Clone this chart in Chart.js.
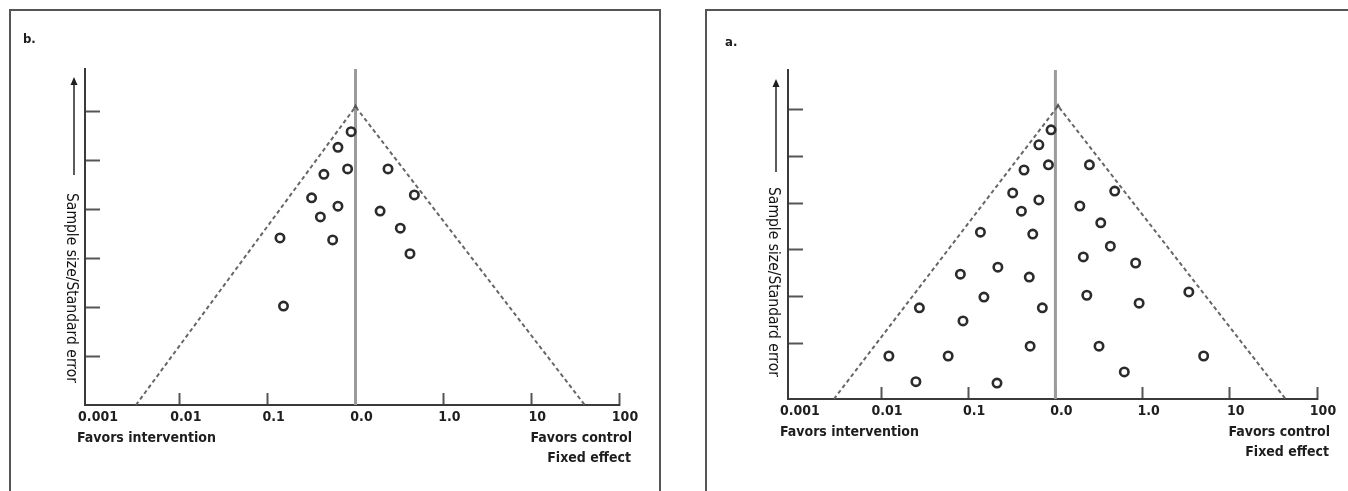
<!DOCTYPE html>
<html>
<head>
<meta charset="utf-8">
<script src="https://cdn.jsdelivr.net/npm/chart.js@4.4.1/dist/chart.umd.min.js"></script>
<style>
  body { margin: 0; background: #fff; }
  #page { position: relative; width: 1348px; height: 491px; overflow: hidden; background: #fff; }
  .frame { position: absolute; top: 9px; height: 540px; border: 2px solid #555; box-sizing: border-box; }
  canvas { position: absolute; top: 0; }
</style>
</head>
<body>
<div id="page">
  <div class="frame" style="left:9px;width:652px"></div>
  <div class="frame" style="left:705px;width:700px"></div>
  <canvas id="panelB" width="674" height="491" style="left:0"></canvas>
  <canvas id="panelA" width="674" height="491" style="left:674px"></canvas>
</div>
<script>
// x is measured in axis steps: 0 = 0.001, 1 = 0.01, 2 = 0.1, 3 = 0.0, 4 = 1.0, 5 = 10, 6 = 100
// y is sample size / standard error, in tick steps
var xTickLabels = ["0.001", "0.01", "0.1", "0.0", "1.0", "10", "100"];
var xTickValues = [0, 1, 2, 3, 4, 5, 6];
var yTickValues = [1, 2, 3, 4, 5, 6];

// Panel b
var studiesB_x = [2.95, 2.80, 2.91, 2.64, 3.37, 2.50, 2.80, 3.67, 2.60, 3.28, 3.51, 2.14, 2.74, 3.62, 2.18];
var studiesB_y = [5.58, 5.26, 4.82, 4.71, 4.82, 4.23, 4.06, 4.29, 3.84, 3.96, 3.61, 3.41, 3.37, 3.09, 2.02];
var funnelB_x = [0.50, 3.0, 5.61];
var funnelB_y = [0, 6.09, 0];
var xRangeB = [-0.08, 6];
var yRangeB = [0, 6.86];

// Panel a
var studiesA_x = [2.95, 2.81, 2.92, 3.39, 2.64, 3.68, 2.51, 2.81, 3.28, 2.61, 3.52, 2.14, 2.74, 3.63, 3.32, 3.92, 2.34,
  1.91, 2.70, 4.53, 3.36, 2.18, 3.96, 1.44, 2.85, 1.94, 2.71, 3.50, 1.09, 1.77, 4.70, 3.79, 1.40, 2.33];
var studiesA_y = [5.57, 5.25, 4.82, 4.82, 4.71, 4.26, 4.22, 4.07, 3.94, 3.83, 3.58, 3.38, 3.34, 3.08, 2.85, 2.72, 2.63,
  2.48, 2.42, 2.10, 2.03, 1.99, 1.86, 1.76, 1.76, 1.48, 0.94, 0.94, 0.73, 0.73, 0.73, 0.39, 0.18, 0.15];
var funnelA_x = [0.46, 3.03, 5.64];
var funnelA_y = [-0.19, 6.08, -0.19];
var xRangeA = [-0.067, 6];
var yRangeA = [-0.19, 6.85];

var centerX = 3;

var textFont = "'DejaVu Sans Condensed', 'DejaVu Sans', sans-serif";

function toPoints(xs, ys) {
  return xs.map(function (x, i) { return { x: x, y: ys[i] }; });
}

// Panel letter, y-axis arrow + title, and the notes under the x axis
var sideNotes = {
  id: "sideNotes",
  afterDraw: function (chart, args, opts) {
    var ctx = chart.ctx;
    var area = chart.chartArea;
    ctx.save();
    ctx.fillStyle = "#1e1e1e";
    ctx.strokeStyle = "#333";

    ctx.font = "bold 13px " + textFont;
    ctx.textBaseline = "middle";
    ctx.textAlign = "left";
    ctx.fillText(opts.letter, opts.letterX, opts.letterY);

    // arrow
    ctx.lineWidth = 1.6;
    ctx.beginPath();
    ctx.moveTo(opts.arrowX, opts.arrowBottom);
    ctx.lineTo(opts.arrowX, opts.arrowTop + 6);
    ctx.stroke();
    ctx.beginPath();
    ctx.moveTo(opts.arrowX, opts.arrowTop);
    ctx.lineTo(opts.arrowX - 3.5, opts.arrowTop + 8);
    ctx.lineTo(opts.arrowX + 3.5, opts.arrowTop + 8);
    ctx.closePath();
    ctx.fill();

    // y title reads top to bottom
    ctx.save();
    ctx.translate(opts.labelX, opts.labelY);
    ctx.rotate(Math.PI / 2);
    ctx.fillStyle = "#111";
    ctx.font = "15.5px " + textFont;
    ctx.textAlign = "center";
    ctx.fillText("Sample size/Standard error", 0, 0);
    ctx.restore();

    ctx.font = "bold 14px " + textFont;
    ctx.textAlign = "left";
    ctx.fillText("Favors intervention", area.left - 8, area.bottom + 33);
    ctx.textAlign = "right";
    ctx.fillText("Favors control", area.right + 13, area.bottom + 33);
    ctx.fillText("Fixed effect", area.right + 12, area.bottom + 53);
    ctx.restore();
  }
};

function tickColor(c) {
  return c.tick && c.tick.value === 0 ? "rgba(0,0,0,0)" : "#555";
}

function makeFunnel(canvasId, p) {
  var ctx = document.getElementById(canvasId).getContext("2d");
  return new Chart(ctx, {
    type: "scatter",
    data: {
      datasets: [{
        // studies
        data: toPoints(p.xs, p.ys),
        pointRadius: 4.2,
        pointBorderWidth: 2.6,
        pointBorderColor: "#2b2b2b",
        pointBackgroundColor: "rgba(0,0,0,0)"
      }, {
        // funnel edges
        data: toPoints(p.fx, p.fy),
        showLine: true,
        borderColor: "#666",
        borderWidth: 2,
        borderDash: [4, 3],
        pointRadius: [0, 3, 0],
        pointStyle: "triangle",
        pointBackgroundColor: "#555",
        pointBorderWidth: 0,
        clip: false
      }, {
        // line of no effect
        data: [{ x: centerX, y: p.yRange[0] }, { x: centerX, y: p.yRange[1] }],
        showLine: true,
        borderColor: "#9b9b9b",
        borderWidth: 3,
        pointRadius: 0,
        clip: false
      }]
    },
    options: {
      responsive: false,
      animation: false,
      events: [],
      layout: { padding: p.padding },
      plugins: {
        legend: { display: false },
        tooltip: { enabled: false },
        sideNotes: p.notes
      },
      scales: {
        x: {
          type: "linear",
          min: p.xRange[0],
          max: p.xRange[1],
          afterBuildTicks: function (scale) {
            scale.ticks = xTickValues.map(function (v) { return { value: v }; });
          },
          afterFit: function (scale) { scale.height = p.xAxisH; },
          grid: { drawOnChartArea: false, drawTicks: true, tickLength: -12, tickWidth: 2, tickColor: tickColor, color: tickColor },
          border: { color: "#3a3a3a", width: 2 },
          ticks: {
            padding: 16,
            labelOffset: 6,
            maxRotation: 0,
            autoSkip: false,
            color: "#1e1e1e",
            font: { family: textFont, size: 14, weight: "bold" },
            callback: function (v, i) { return xTickLabels[i]; }
          }
        },
        y: {
          type: "linear",
          min: p.yRange[0],
          max: p.yRange[1],
          afterBuildTicks: function (scale) {
            scale.ticks = yTickValues.map(function (v) { return { value: v }; });
          },
          afterFit: function (scale) { scale.width = p.yAxisW; },
          grid: { drawOnChartArea: false, drawTicks: true, tickLength: -15, tickWidth: 2, tickColor: "#555" },
          border: { color: "#3a3a3a", width: 2 },
          ticks: { display: false }
        }
      }
    },
    plugins: [sideNotes]
  });
}

var chart_b = makeFunnel("panelB", {
  xs: studiesB_x, ys: studiesB_y, fx: funnelB_x, fy: funnelB_y,
  xRange: xRangeB, yRange: yRangeB,
  padding: { left: 20, right: 55, top: 69, bottom: 20 },
  yAxisW: 65, xAxisH: 66,
  notes: { letter: "b.", letterX: 23, letterY: 40, arrowX: 74, arrowTop: 77, arrowBottom: 175, labelX: 71, labelY: 288 }
});

var chart_a = makeFunnel("panelA", {
  xs: studiesA_x, ys: studiesA_y, fx: funnelA_x, fy: funnelA_y,
  xRange: xRangeA, yRange: yRangeA,
  padding: { left: 20, right: 31, top: 70, bottom: 20 },
  yAxisW: 94, xAxisH: 72,
  notes: { letter: "a.", letterX: 51, letterY: 43, arrowX: 102, arrowTop: 79, arrowBottom: 172, labelX: 99, labelY: 282 }
});
</script>
</body>
</html>
